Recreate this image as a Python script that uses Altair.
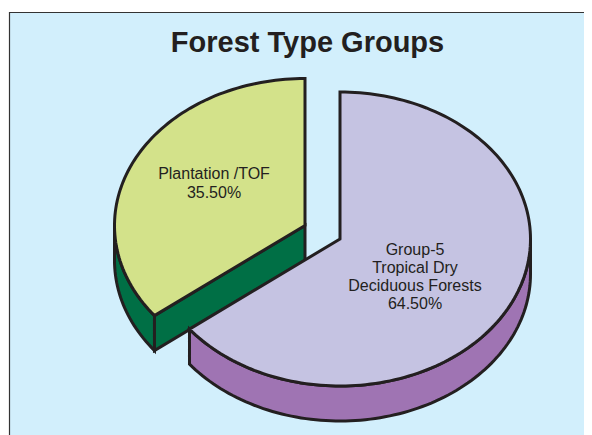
import altair as alt
import numpy as np
import pandas as pd

# Chart values
categories = ["Group-5 Tropical Dry Deciduous Forests", "Plantation /TOF"]
shares = [64.50, 35.50]
title_text = ["Forest Type Groups"]
label_lines_a = ["Group-5", "Tropical Dry", "Deciduous Forests", "64.50%"]
label_lines_b = ["Plantation /TOF", "35.50%"]

# Colours
PANEL = "#D2EFFC"
INK = "#231F20"
TOP_A, SIDE_A = "#C5C3E2", "#9F74B3"
TOP_B, SIDE_B = "#D3E28A", "#006F45"

# Pie geometry, in page pixels
RX, RY, DEPTH = 190.5, 147, 35
CENTER_A = (340, 239)
CENTER_B = (305, 225.5)
X0, Y0 = 9, 12
W, H = 575, 423


def rim(center, a0, a1, dy=0):
    """Points on the elliptical rim; angles run clockwise from 12 o'clock."""
    t = np.radians(np.linspace(a0, a1, int(abs(a1 - a0) / 1.5) + 2))
    return [(center[0] + RX * np.sin(v), center[1] - RY * np.cos(v) + dy) for v in t]


def shape(points, fill):
    closed = list(points) + [points[0]]
    df = pd.DataFrame(closed, columns=["x", "y"])
    df["i"] = range(len(df))
    return (
        alt.Chart(df)
        .mark_line(fill=fill, stroke=INK, strokeWidth=3, strokeJoin="miter", strokeCap="round", clip=False)
        .encode(
            x=alt.X("x:Q", scale=XS, axis=None),
            y=alt.Y("y:Q", scale=YS, axis=None),
            order="i:Q",
        )
    )


XS = alt.Scale(domain=[X0, X0 + W])
YS = alt.Scale(domain=[Y0 + H, Y0])

sweep = shares[0] * 3.6  # the first slice runs clockwise from 12 o'clock

# second slice: outer wall, cut wall, top
b_wall = rim(CENTER_B, sweep, 270) + rim(CENTER_B, 270, sweep, DEPTH)
b_edge = rim(CENTER_B, sweep, sweep)[:1]
b_cut = [
    b_edge[0],
    CENTER_B,
    (CENTER_B[0], CENTER_B[1] + DEPTH),
    (b_edge[0][0], b_edge[0][1] + DEPTH),
]
b_top = [CENTER_B] + rim(CENTER_B, sweep, 360)

# first slice: outer wall, top
a_wall = rim(CENTER_A, 90, sweep) + rim(CENTER_A, sweep, 90, DEPTH)
a_top = [CENTER_A] + rim(CENTER_A, 0, sweep)

layers = [
    shape(b_wall, SIDE_B),
    shape(b_cut, SIDE_B),
    shape(b_top, TOP_B),
    shape(a_wall, SIDE_A),
    shape(a_top, TOP_A),
]

# Panel frame (left and top lines only)
frame_left = pd.DataFrame({"x": [X0 + 0.5], "y": [Y0], "y2": [Y0 + H]})
frame_top = pd.DataFrame({"y": [Y0 + 0.5], "x": [X0], "x2": [X0 + W]})
layers.append(
    alt.Chart(frame_left)
    .mark_rule(color="#333333", strokeWidth=1.2)
    .encode(x=alt.X("x:Q", scale=XS, axis=None), y=alt.Y("y:Q", scale=YS, axis=None), y2="y2:Q")
)
layers.append(
    alt.Chart(frame_top)
    .mark_rule(color="#333333", strokeWidth=1.2)
    .encode(y=alt.Y("y:Q", scale=YS, axis=None), x=alt.X("x:Q", scale=XS, axis=None), x2="x2:Q")
)

# Text
labels = pd.DataFrame(
    {
        "text": label_lines_b + label_lines_a,
        "x": [214, 214, 415, 415, 415, 415],
        "y": [174, 193, 250, 268, 286, 304],
    }
)
layers.append(
    alt.Chart(labels)
    .mark_text(font="Liberation Sans", fontSize=16, color=INK, align="center", baseline="middle")
    .encode(x=alt.X("x:Q", scale=XS, axis=None), y=alt.Y("y:Q", scale=YS, axis=None), text="text:N")
)
title_df = pd.DataFrame({"text": title_text, "x": [307.5], "y": [43]})
layers.append(
    alt.Chart(title_df)
    .mark_text(font="Liberation Sans", fontSize=29, fontWeight="bold", color=INK, align="center", baseline="middle")
    .encode(x=alt.X("x:Q", scale=XS, axis=None), y=alt.Y("y:Q", scale=YS, axis=None), text="text:N")
)

chart = (
    alt.layer(*layers)
    .properties(
        width=W,
        height=H,
        padding={"left": X0 - 8, "top": Y0 - 8, "right": 0, "bottom": 0},
        autosize=alt.AutoSizeParams(type="none"),
        background="white",
    )
    .configure_view(fill=PANEL, stroke=None)
)
chart.save("out.html", embed_options={"renderer": "svg", "actions": False})
